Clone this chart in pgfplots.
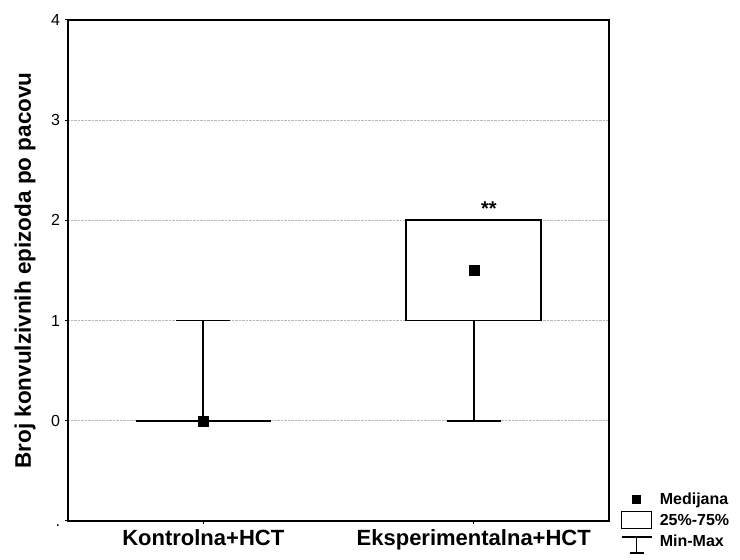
\documentclass[border=0pt]{standalone}
\usepackage{pgfplots}
\pgfplotsset{compat=1.18}
\usepackage{fontspec}
\setmainfont{Liberation Sans}
\begin{document}
\begin{tikzpicture}
\useasboundingbox (-68pt,-39pt) rectangle (672pt,521pt);
\begin{axis}[
  scale only axis, width=541pt, height=501pt,
  xmin=0.5, xmax=2.5, ymin=-1, ymax=4,
  xtick={1,2}, xticklabels={Kontrolna+HCT, Eksperimentalna+HCT},
  ytick={-1,0,1,2,3,4}, yticklabels={\vphantom{0}., 0,1,2,3,4},
  axis line style={line width=1.5pt},
  tick style={black, line width=1pt},
  tick align=outside, major tick length=3pt,
  xtick pos=bottom, ytick pos=left,
  ymajorgrids, grid style={densely dotted, gray!55, line width=0.6pt},
  yticklabel style={font=\fontsize{16}{19}\selectfont, xshift=-1.5pt},
  xticklabel style={font=\bfseries\fontsize{22}{26}\selectfont, yshift=-2pt},
  ylabel={Broj konvulzivnih epizoda po pacovu},
  ylabel style={font=\bfseries\fontsize{22.5}{26}\selectfont, at={(axis description cs:-0.0795,0.5)}, anchor=center},
  legend style={at={(axis description cs:1.02,0.062)}, anchor=north west, draw=none, fill=none,
    font=\bfseries\fontsize{16}{19}\selectfont, row sep=3pt, inner sep=1pt},
  legend cell align=left,
  clip=false,
]
\addlegendimage{legend image code/.code={\fill[black] (11pt,-4pt) rectangle (19pt,4pt); \path (36pt,0pt);}}
\addlegendentry{Medijana}
\addlegendimage{legend image code/.code={\draw[line width=1.2pt] (0pt,-8pt) rectangle (30pt,9pt); \path (36pt,0pt);}}
\addlegendentry{25\%-75\%}
\addlegendimage{legend image code/.code={\draw[line width=1.2pt] (0pt,4pt) -- (30pt,4pt) (15pt,4pt) -- (15pt,-12pt) (8pt,-12pt) -- (22pt,-12pt); \path (36pt,0pt);}}
\addlegendentry{Min-Max}

% Kontrolna+HCT: min 0, q1 0, median 0, q3 0, max 1
\addplot[forget plot, black, line width=1.8pt] coordinates {(0.75,0) (1.25,0)};
\addplot[forget plot, black, line width=1.8pt] coordinates {(1,0) (1,1)};
\addplot[forget plot, black, line width=1.8pt] coordinates {(0.9,1) (1.1,1)};
\addplot[forget plot, only marks, mark=square*, mark size=5pt, black] coordinates {(1,0)};

% Eksperimentalna+HCT: min 0, q1 1, median 1.5, q3 2, max 2
\addplot[forget plot, black, line width=1.8pt] coordinates {(1.75,1) (2.25,1) (2.25,2) (1.75,2) (1.75,1)};
\addplot[forget plot, black, line width=1.8pt] coordinates {(2,1) (2,0)};
\addplot[forget plot, black, line width=1.8pt] coordinates {(1.9,0) (2.1,0)};
\addplot[forget plot, black, line width=1.8pt] coordinates {(1.9,2) (2.1,2)};
\addplot[forget plot, only marks, mark=square*, mark size=5pt, black] coordinates {(2,1.5)};

\node[font=\bfseries\fontsize{20}{24}\selectfont] at (axis cs:2.056,2.12) {**};
\end{axis}
\end{tikzpicture}
\end{document}
